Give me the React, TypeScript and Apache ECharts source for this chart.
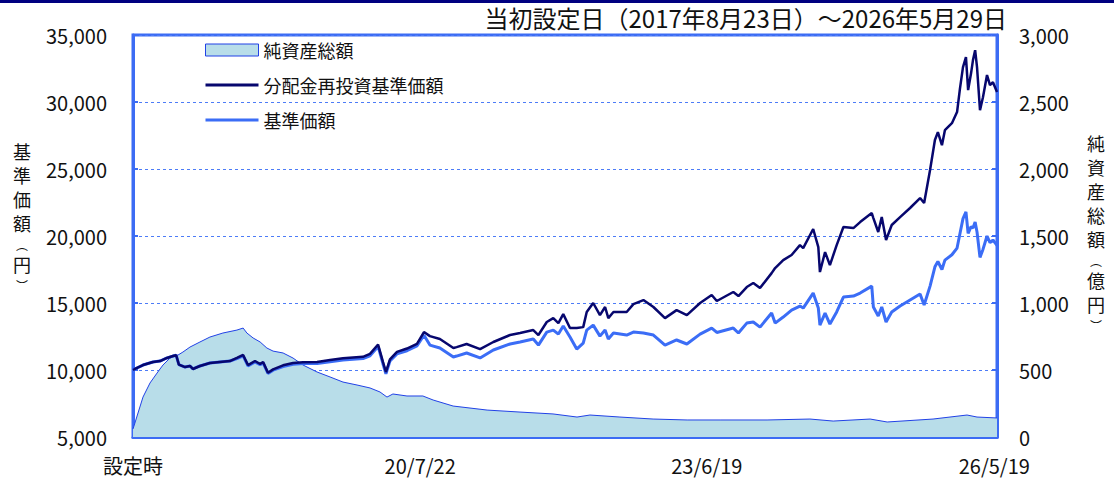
import React, { useEffect, useRef } from 'react';
import * as echarts from 'echarts';

const TITLE = '当初設定日（2017年8月23日）～2026年5月29日';
const LEGEND_NAMES = ['純資産総額', '分配金再投資基準価額', '基準価額'];
const LEFT_NAME = ['基', '準', '価', '額', '︵', '円', '︶'];
const RIGHT_NAME = ['純', '資', '産', '総', '額', '︵', '億', '円', '︶'];

const NAV_DATES = [
  '2017-08-23', '2017-08-30', '2017-09-29', '2017-11-05', '2017-12-01', '2017-12-27', '2018-01-18', '2018-01-30',
  '2018-02-09', '2018-03-04', '2018-03-22', '2018-04-02', '2018-04-28', '2018-06-04', '2018-07-11', '2018-08-17',
  '2018-09-12', '2018-10-05', '2018-10-23', '2018-11-18', '2018-12-07', '2018-12-18', '2019-01-05', '2019-01-24',
  '2019-03-02', '2019-04-08', '2019-05-15', '2019-07-06', '2019-08-23', '2019-10-10', '2019-12-23', '2020-01-18',
  '2020-02-17', '2020-03-06', '2020-03-17', '2020-04-01', '2020-04-27', '2020-06-03', '2020-07-10', '2020-08-05',
  '2020-08-27', '2020-10-03', '2020-11-22', '2020-12-04', '2021-01-10', '2021-03-01', '2021-04-19', '2021-06-20',
  '2021-07-27', '2021-09-14', '2021-10-03', '2021-11-03', '2021-11-27', '2021-12-16', '2022-01-03', '2022-01-28',
  '2022-02-22', '2022-03-18', '2022-03-31', '2022-04-24', '2022-05-19', '2022-06-07', '2022-06-19', '2022-07-08',
  '2022-08-26', '2022-09-20', '2022-10-27', '2022-12-03', '2023-01-15', '2023-02-27', '2023-04-06', '2023-05-25',
  '2023-07-07', '2023-07-26', '2023-09-25', '2023-10-14', '2023-11-14', '2023-12-08', '2024-01-02', '2024-02-14',
  '2024-02-27', '2024-03-28', '2024-04-28', '2024-05-29', '2024-06-10', '2024-07-17', '2024-08-05', '2024-08-11',
  '2024-08-30', '2024-09-17', '2024-10-12', '2024-11-06', '2024-12-13', '2025-01-07', '2025-02-19', '2025-02-25',
  '2025-03-15', '2025-03-28', '2025-04-13', '2025-05-04', '2025-06-04', '2025-07-11', '2025-08-17', '2025-09-01',
  '2025-09-23', '2025-10-11', '2025-10-22', '2025-11-06', '2025-11-17', '2025-12-13', '2026-01-01', '2026-01-12',
  '2026-01-23', '2026-02-03', '2026-02-11', '2026-02-22', '2026-03-01', '2026-03-09', '2026-03-16', '2026-03-27',
  '2026-04-07', '2026-04-22', '2026-05-03', '2026-05-14', '2026-05-29',
];

const REINVESTED_NAV = [
  10000, 10075, 10370, 10600, 10670, 10900, 11040, 11100,
  10400, 10220, 10300, 10075, 10300, 10520, 10600, 10670,
  10900, 11120, 10370, 10670, 10450, 10600, 9800, 10050,
  10350, 10520, 10580, 10600, 10750, 10880, 10980, 11200,
  11900, 10600, 9850, 10800, 11350, 11600, 11950, 12830,
  12530, 12310, 11640, 11710, 11940, 11560, 12090, 12610,
  12760, 12980, 12610, 13580, 13870, 13500, 14170, 13130,
  13130, 13200, 14330, 15000, 14100, 14700, 13870, 14330,
  14330, 14920, 15220, 14700, 13870, 14470, 14100, 15000,
  15600, 15150, 15820, 15520, 16190, 16490, 16120, 17230,
  17610, 18200, 18580, 19320, 19100, 20520, 19170, 17310,
  18800, 17830, 19320, 20670, 20590, 21040, 21710, 21340,
  20300, 21410, 19700, 20820, 21410, 22090, 22830, 22460,
  24920, 27160, 27750, 26780, 27900, 28420, 29250, 31040,
  32600, 33350, 30890, 32160, 33130, 33870, 32600, 29390,
  30360, 32010, 31260, 31480, 30740,
];

const NAV = [
  10000, 10075, 10370, 10600, 10670, 10900, 11040, 11100,
  10400, 10220, 10300, 10075, 10300, 10520, 10600, 10670,
  10850, 11060, 10310, 10610, 10390, 10540, 9740, 9990,
  10250, 10420, 10480, 10480, 10620, 10750, 10850, 11060,
  11760, 10470, 9720, 10670, 11200, 11440, 11800, 12600,
  11860, 11640, 10970, 11040, 11270, 10900, 11490, 11940,
  12090, 12310, 11860, 12830, 12980, 12680, 13280, 12460,
  11560, 12010, 12980, 13350, 12530, 12980, 12310, 12760,
  12610, 12830, 12760, 12610, 11860, 12240, 11940, 12680,
  13130, 12800, 13130, 12760, 13500, 13580, 13200, 14250,
  13500, 13950, 14470, 14770, 14620, 15740, 14620, 13350,
  14250, 13430, 14330, 15440, 15520, 15740, 16260, 14700,
  14030, 14700, 13580, 14330, 14770, 15220, 15670, 14850,
  16260, 17700, 18100, 17500, 18200, 18600, 19100, 20200,
  21300, 21800, 20200, 20700, 20600, 21040, 20300, 18400,
  19000, 20000, 19500, 19700, 19300,
];

const NA_DATES = [
  '2017-08-23', '2017-08-30', '2017-09-29', '2017-10-25', '2017-11-20', '2017-12-12', '2018-01-07', '2018-02-06',
  '2018-02-24', '2018-03-22', '2018-04-28', '2018-06-04', '2018-07-22', '2018-09-12', '2018-10-05', '2018-10-19',
  '2018-11-11', '2018-12-07', '2019-01-01', '2019-01-24', '2019-03-02', '2019-04-08', '2019-05-15', '2019-07-06',
  '2019-08-23', '2019-10-10', '2019-12-01', '2020-01-18', '2020-02-24', '2020-03-21', '2020-04-12', '2020-06-03',
  '2020-08-01', '2020-09-08', '2020-11-21', '2021-03-27', '2021-07-27', '2021-11-26', '2022-02-23', '2022-04-12',
  '2022-08-01', '2022-12-02', '2023-04-07', '2023-08-07', '2024-01-28', '2024-07-05', '2024-09-29', '2025-02-13',
  '2025-04-17', '2025-10-04', '2026-02-07', '2026-03-16', '2026-05-29',
];

const NET_ASSETS = [
  60, 104, 298, 403, 477, 537, 589, 612,
  634, 671, 709, 746, 776, 798, 813, 776,
  739, 709, 664, 641, 627, 589, 537, 485,
  448, 410, 388, 366, 336, 298, 321, 306,
  306, 276, 231, 201, 186, 172, 149, 164,
  149, 134, 127, 127, 127, 134, 119, 134,
  112, 134, 164, 149, 142,
];

const X_TICK_DATES = ['2017-08-23', '2020-07-22', '2023-06-19', '2026-05-19'];
const X_TICK_LABELS = ['設定時', '20/7/22', '23/6/19', '26/5/19'];

const FONT = '"Noto Sans CJK JP", "Noto Sans", sans-serif';
const FRAME = '#3c6cf4';
const NAV_COLOR = '#3b6df6';
const REINV_COLOR = '#07076e';
const NA_FILL = '#b8dde9';
const NA_LINE = '#2141e6';
const TEXT = '#111111';
const LINE_ICON = 'path://M0,0 L0.05,0 L0.05,0.05 L0,0.05 Z M0,4.6 L53,4.6 L53,7.4 L0,7.4 Z M52.95,11.95 L53,11.95 L53,12 L52.95,12 Z';

function ts(s: string): number {
  const [y, m, d] = s.split('-').map(Number);
  return new Date(y, m - 1, d).getTime();
}

export default function App() {
  const ref = useRef<HTMLDivElement>(null);

  useEffect(() => {
    if (!ref.current) return;
    const chart = echarts.init(ref.current, null, { renderer: 'svg' });
    const tickTs = X_TICK_DATES.map(ts);
    const labelFor = (v: number) => {
      for (let i = 0; i < tickTs.length; i++) {
        if (Math.abs(tickTs[i] - v) < 12 * 3600 * 1000) return X_TICK_LABELS[i];
      }
      return '';
    };

    const leftY = [151, 175, 199, 223, 244, 264, 285];
    const rightY = [143, 167, 191, 215, 239, 260, 280, 304, 325];
    const nameText = (ch: string, x: number, y: number) => {
      const paren = ch === '︵' || ch === '︶';
      return {
        type: 'text',
        x,
        y,
        silent: true,
        style: {
          text: ch,
          fill: TEXT,
          font: `${paren ? 12 : 18}px ${FONT}`,
          align: 'center',
          verticalAlign: 'middle',
        },
      };
    };

    const option: any = {
      animation: false,
      backgroundColor: '#ffffff',
      textStyle: { fontFamily: FONT },
      grid: {
        left: 133,
        right: 117,
        top: 35,
        bottom: 47,
        show: true,
        borderColor: FRAME,
        borderWidth: 3,
        containLabel: false,
      },
      legend: {
        orient: 'vertical',
        left: 200,
        top: 36,
        itemWidth: 53,
        itemHeight: 12,
        itemGap: 17,
        selectedMode: false,
        textStyle: { fontSize: 18, color: TEXT, fontFamily: FONT, lineHeight: 18 },
        data: [
          { name: LEGEND_NAMES[0], icon: 'rect', itemStyle: { color: NA_FILL, borderColor: NA_LINE, borderWidth: 1 } },
          { name: LEGEND_NAMES[1], icon: LINE_ICON, itemStyle: { color: REINV_COLOR, borderWidth: 0 } },
          { name: LEGEND_NAMES[2], icon: LINE_ICON, itemStyle: { color: NAV_COLOR, borderWidth: 0 } },
        ],
      },
      xAxis: {
        type: 'value',
        min: ts('2017-08-23'),
        max: ts('2026-05-29'),
        axisLine: { show: true, lineStyle: { color: FRAME, width: 3 } },
        axisTick: {
          show: true,
          inside: true,
          length: 6,
          lineStyle: { color: FRAME, width: 2 },
          customValues: tickTs.slice(1),
        },
        axisLabel: {
          customValues: tickTs,
          formatter: (v: number) => labelFor(v),
          margin: 18,
          fontSize: 20,
          color: TEXT,
          fontFamily: FONT,
        },
        splitLine: { show: false },
      },
      yAxis: [
        {
          type: 'value',
          position: 'left',
          min: 5000,
          max: 35000,
          interval: 5000,
          axisLine: { show: true, lineStyle: { color: FRAME, width: 3 } },
          axisTick: { show: true, inside: true, length: 5, lineStyle: { color: FRAME, width: 2 } },
          axisLabel: {
            formatter: (v: number) => v.toLocaleString('en-US'),
            fontSize: 20,
            color: TEXT,
            margin: 26,
            fontFamily: FONT,
          },
          splitLine: { show: true, lineStyle: { color: '#4d7cf7', type: [3, 3], width: 1 } },
        },
        {
          type: 'value',
          position: 'right',
          min: 0,
          max: 3000,
          interval: 500,
          axisLine: { show: true, lineStyle: { color: FRAME, width: 3 } },
          axisTick: { show: true, inside: true, length: 5, lineStyle: { color: FRAME, width: 2 } },
          axisLabel: {
            formatter: (v: number) => v.toLocaleString('en-US'),
            fontSize: 20,
            color: TEXT,
            margin: 22,
            fontFamily: FONT,
          },
          splitLine: { show: false },
        },
      ],
      series: [
        {
          name: LEGEND_NAMES[0],
          type: 'line',
          yAxisIndex: 1,
          symbol: 'none',
          data: NA_DATES.map((d, i) => [ts(d), NET_ASSETS[i]]),
          lineStyle: { color: NA_LINE, width: 1 },
          itemStyle: { color: NA_FILL },
          areaStyle: { color: NA_FILL, opacity: 1 },
          z: 1,
        },
        {
          name: LEGEND_NAMES[2],
          type: 'line',
          symbol: 'none',
          data: NAV_DATES.map((d, i) => [ts(d), NAV[i]]),
          lineStyle: { color: NAV_COLOR, width: 3 },
          itemStyle: { color: NAV_COLOR },
          z: 2,
        },
        {
          name: LEGEND_NAMES[1],
          type: 'line',
          symbol: 'none',
          data: NAV_DATES.map((d, i) => [ts(d), REINVESTED_NAV[i]]),
          lineStyle: { color: REINV_COLOR, width: 2.5 },
          itemStyle: { color: REINV_COLOR },
          z: 3,
        },
      ],
      graphic: [
        { type: 'rect', left: 0, top: 0, shape: { width: 1114, height: 3 }, style: { fill: '#000080' }, silent: true },
        {
          type: 'text',
          right: 107,
          top: 5,
          style: { text: TITLE, font: `24px ${FONT}`, fill: TEXT },
          silent: true,
        },
        ...LEFT_NAME.map((ch, i) => nameText(ch, 22, leftY[i])),
        ...RIGHT_NAME.map((ch, i) => nameText(ch, 1096, rightY[i])),
      ],
    };

    chart.setOption(option);
    return () => chart.dispose();
  }, []);

  return <div ref={ref} style={{ position: 'fixed', left: 0, top: 0, width: 1114, height: 484 }} />;
}
